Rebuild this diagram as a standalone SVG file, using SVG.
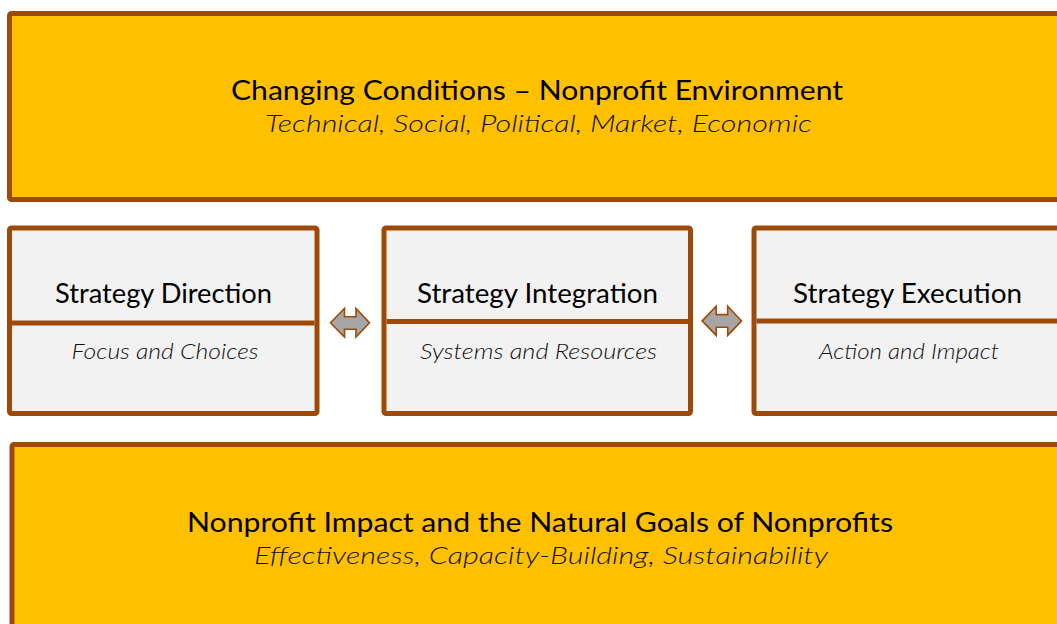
<svg xmlns="http://www.w3.org/2000/svg" width="1057" height="624" viewBox="0 0 1057 624">
  <style>
    .band { fill: #FFC000; stroke: #9E4A06; stroke-width: 5; }
    .card { fill: #F2F2F2; stroke: #9E4A06; stroke-width: 5; }
    .rule { stroke: #9E4A06; stroke-width: 5; }
    .link { fill: #A6A6A6; stroke: #9E4A06; stroke-width: 1.6; stroke-linejoin: miter; }
    .head { font-family: Lato, "Open Sans", "Liberation Sans", sans-serif; fill: #000; text-anchor: middle; }
    .sub { font-family: Lato, "Open Sans", "Liberation Sans", sans-serif; font-style: italic; font-weight: 300; fill: #111; text-anchor: middle; }
  </style>
  <rect width="1057" height="624" fill="#FFFFFF"/>

  <!-- environment band -->
  <g id="node-environment">
    <rect class="band" x="9.5" y="13.5" width="1060" height="186" rx="2"/>
    <text class="head" x="537" y="100" font-size="26" textLength="612" lengthAdjust="spacingAndGlyphs">Changing Conditions – Nonprofit Environment</text>
    <text class="sub" x="538.5" y="132" font-size="24" textLength="547" lengthAdjust="spacingAndGlyphs">Technical, Social, Political, Market, Economic</text>
  </g>

  <!-- strategy cards -->
  <g id="node-direction">
    <rect class="card" x="9.5" y="228" width="307.5" height="185.5" rx="2"/>
    <line class="rule" x1="12" y1="323" x2="314.5" y2="323"/>
    <text class="head" x="163.5" y="303" font-size="26" textLength="217" lengthAdjust="spacingAndGlyphs">Strategy Direction</text>
    <text class="sub" x="165" y="359" font-size="21" textLength="187" lengthAdjust="spacingAndGlyphs">Focus and Choices</text>
  </g>

  <g id="node-integration">
    <rect class="card" x="384" y="228" width="306.5" height="185.5" rx="2"/>
    <line class="rule" x1="386.5" y1="321.5" x2="688" y2="321.5"/>
    <text class="head" x="537.5" y="303" font-size="26" textLength="241" lengthAdjust="spacingAndGlyphs">Strategy Integration</text>
    <text class="sub" x="538.5" y="359" font-size="21" textLength="237" lengthAdjust="spacingAndGlyphs">Systems and Resources</text>
  </g>

  <g id="node-execution">
    <rect class="card" x="754" y="228" width="307" height="185.5" rx="2"/>
    <line class="rule" x1="756.5" y1="321" x2="1061" y2="321"/>
    <text class="head" x="907.5" y="303" font-size="26" textLength="229" lengthAdjust="spacingAndGlyphs">Strategy Execution</text>
    <text class="sub" x="909" y="359" font-size="21" textLength="180" lengthAdjust="spacingAndGlyphs">Action and Impact</text>
  </g>

  <!-- impact band -->
  <g id="node-impact">
    <rect class="band" x="12" y="444.5" width="1060" height="190" rx="2"/>
    <text class="head" x="540" y="531.5" font-size="26" textLength="706" lengthAdjust="spacingAndGlyphs">Nonprofit Impact and the Natural Goals of Nonprofits</text>
    <text class="sub" x="541" y="563.5" font-size="24" textLength="574" lengthAdjust="spacingAndGlyphs">Effectiveness, Capacity-Building, Sustainability</text>
  </g>

  <!-- two-way links between the cards -->
  <g id="connectors">
    <path class="link" d="M330.5,322.8 L344.5,308.5 L344.5,316.7 L356,316.7 L356,308.5 L369.5,322.8 L356,337 L356,329.2 L344.5,329.2 L344.5,337 Z"/>
    <path class="link" d="M702.2,320.9 L716.2,306.3 L716.2,314.6 L727.7,314.6 L727.7,306.3 L741.5,320.9 L727.7,335.4 L727.7,327.2 L716.2,327.2 L716.2,335.4 Z"/>
  </g>
</svg>
